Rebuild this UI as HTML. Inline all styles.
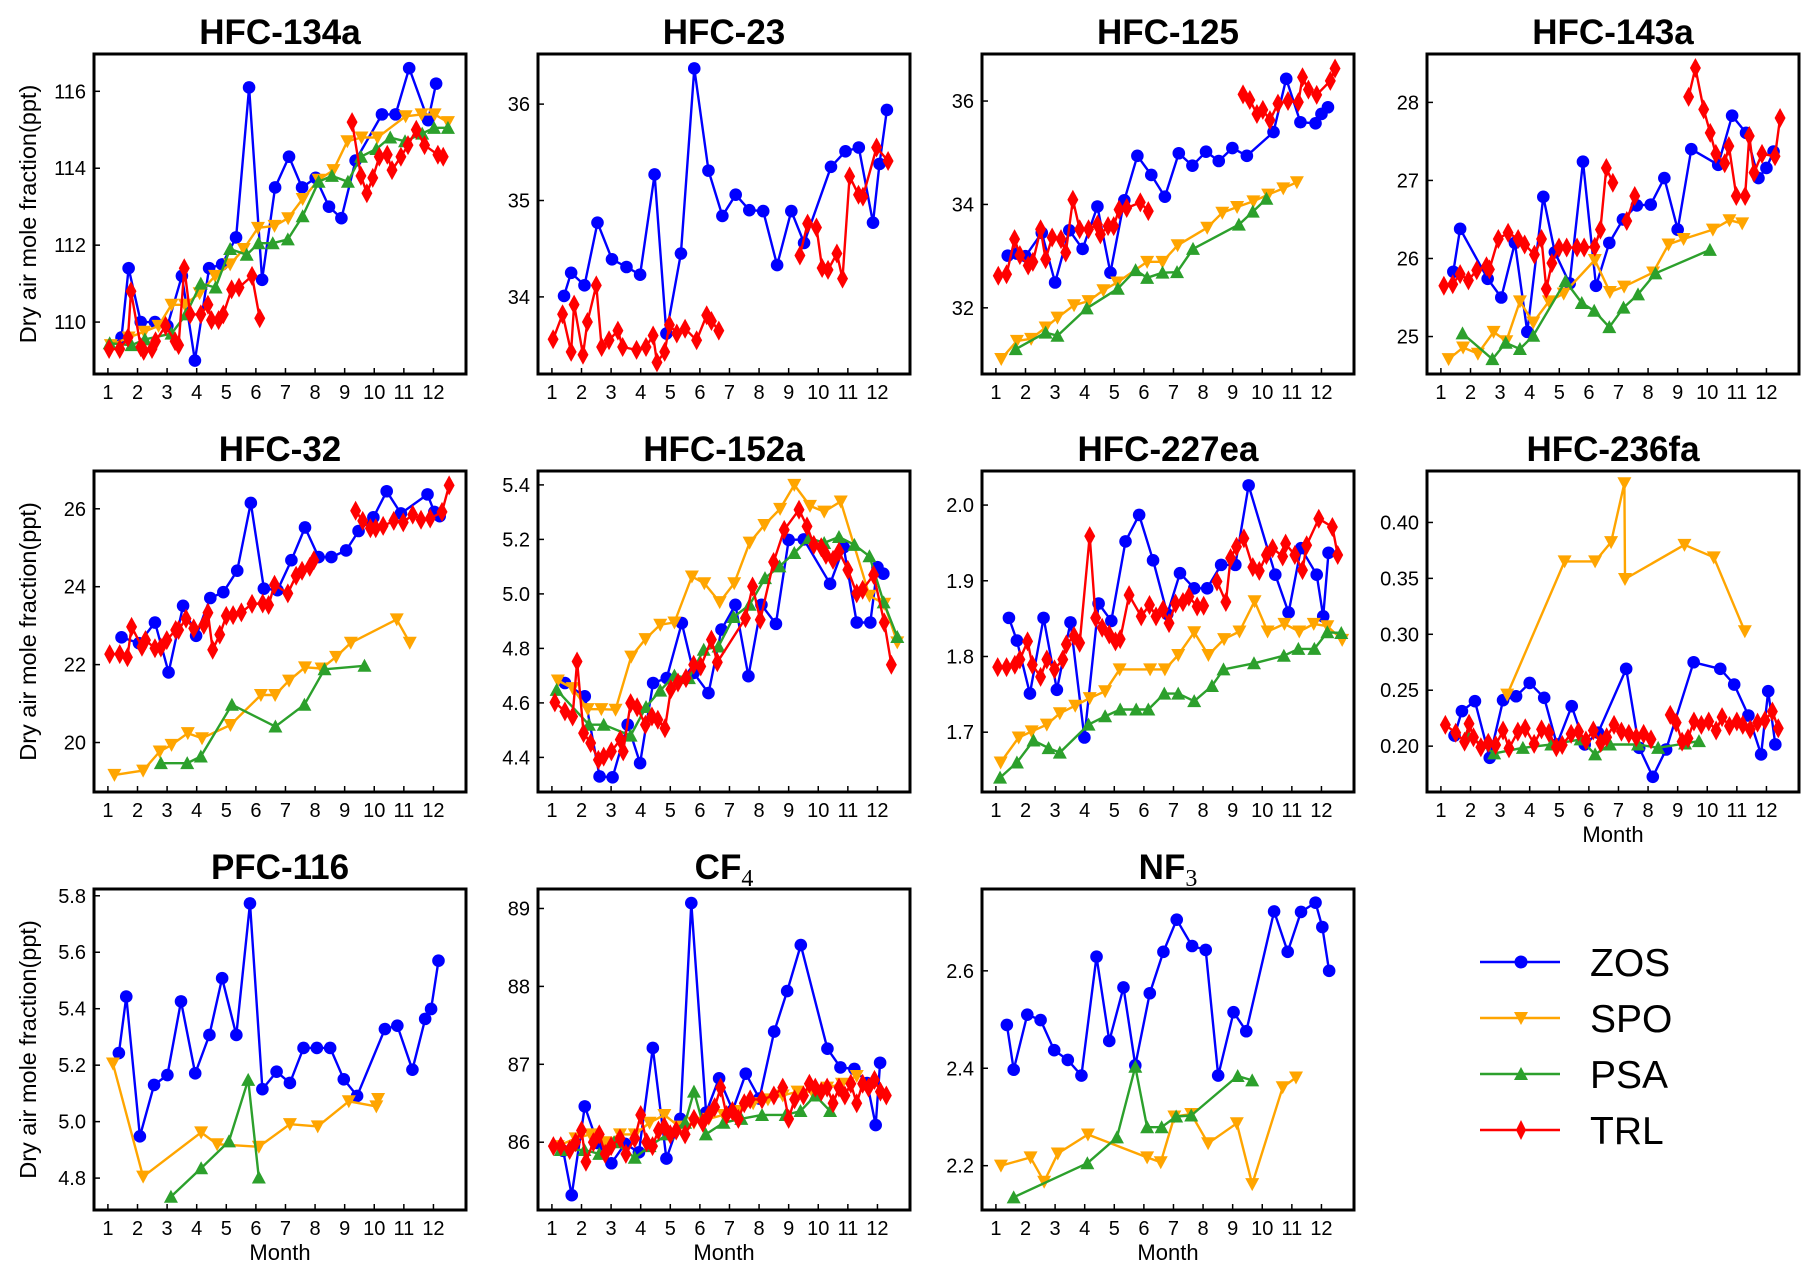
<!DOCTYPE html>
<html><head><meta charset="utf-8">
<style>
html,body{margin:0;padding:0;background:#fff;}
svg{display:block;font-family:"Liberation Sans",Arial,sans-serif;}
</style></head>
<body>
<svg id="fig" width="1818" height="1279" viewBox="0 0 1818 1279" xmlns="http://www.w3.org/2000/svg">
<rect width="1818" height="1279" fill="#fff"/>
<g id="legend">
  <g>
    <line x1="1480" y1="962" x2="1560" y2="962" stroke="#0000ff" stroke-width="2.6"/>
    <circle cx="1521" cy="962" r="6.5" fill="#0000ff"/>
    <text x="1590" y="976" font-size="39">ZOS</text>
  </g>
  <g>
    <line x1="1480" y1="1018" x2="1560" y2="1018" stroke="#ffa500" stroke-width="2.6"/>
    <polygon points="1514,1012 1528,1012 1521,1025" fill="#ffa500"/>
    <text x="1590" y="1032" font-size="39">SPO</text>
  </g>
  <g>
    <line x1="1480" y1="1074" x2="1560" y2="1074" stroke="#2ca02c" stroke-width="2.6"/>
    <polygon points="1514,1080 1528,1080 1521,1067" fill="#2ca02c"/>
    <text x="1590" y="1088" font-size="39">PSA</text>
  </g>
  <g>
    <line x1="1480" y1="1130" x2="1560" y2="1130" stroke="#ff0000" stroke-width="2.6"/>
    <polygon points="1521,1120 1526,1130 1521,1140 1516,1130" fill="#ff0000"/>
    <text x="1590" y="1144" font-size="39">TRL</text>
  </g>
</g>
</svg>
<script>
// ---------- data (month, ppt) ----------
const HFC134a_ZOS=[[1.46,109.6],[1.70,111.4],[2.11,110.0],[2.59,110.0],[3.01,109.9],[3.50,111.2],[3.94,109.0],[4.42,111.4],[4.86,111.5],[5.33,112.2],[5.77,116.1],[6.21,111.1],[6.65,113.5],[7.12,114.3],[7.56,113.5],[8.02,113.75],[8.47,113.0],[8.89,112.7],[9.37,114.2],[10.26,115.4],[10.72,115.4],[11.18,116.6],[11.82,115.25],[12.09,116.2]];
const HFC134a_SPO=[[1.1,109.4],[1.7,109.6],[2.23,109.75],[2.71,109.9],[3.15,110.45],[3.6,110.45],[4.1,110.75],[4.62,111.2],[5.13,111.5],[5.59,111.9],[6.07,112.45],[6.63,112.5],[7.09,112.7],[7.58,113.2],[8.12,113.7],[8.62,113.95],[9.09,114.7],[9.57,114.8],[10.11,114.8],[11.06,115.35],[11.6,115.4],[12.04,115.4],[12.49,115.2]];
const HFC134a_PSA=[[1.06,109.45],[1.8,109.4],[2.25,109.55],[3.15,109.7],[3.64,110.2],[4.14,111.0],[4.64,110.9],[5.13,111.9],[5.69,111.75],[6.09,112.05],[6.57,112.05],[7.08,112.15],[7.58,112.75],[8.12,113.65],[8.57,113.8],[9.11,113.65],[9.55,114.3],[10.07,114.5],[10.54,114.8],[11.04,114.7],[11.62,114.9],[12.02,115.05],[12.49,115.05]];
const HFC134a_TRL=[[1.04,109.3],[1.4,109.3],[1.68,109.6],[1.78,110.8],[2.11,109.35],[2.21,109.25],[2.49,109.3],[2.61,109.5],[2.95,109.9],[3.27,109.5],[3.39,109.4],[3.58,111.4],[3.78,110.2],[4.14,110.2],[4.38,110.45],[4.5,110.05],[4.74,110.05],[4.9,110.2],[5.18,110.85],[5.43,110.9],[5.87,111.2],[6.13,110.1],[null,null],[9.25,115.2],[9.55,113.8],[9.75,113.35],[9.95,113.75],[10.17,114.3],[10.44,114.35],[10.6,113.95],[10.9,114.3],[11.14,114.6],[11.42,115.0],[11.7,114.6],[12.15,114.35],[12.33,114.3]];

const HFC23_ZOS=[[1.41,34.01],[1.65,34.25],[2.1,34.12],[2.54,34.77],[3.03,34.39],[3.52,34.31],[3.98,34.23],[4.47,35.27],[4.87,33.62],[5.36,34.45],[5.81,36.37],[6.29,35.31],[6.76,34.84],[7.21,35.06],[7.67,34.9],[8.14,34.89],[8.61,34.33],[9.09,34.89],[9.52,34.56],[10.43,35.35],[10.92,35.51],[11.37,35.55],[11.85,34.77],[12.07,35.38],[12.32,35.94]];
const HFC23_TRL=[[1.04,33.56],[1.36,33.82],[1.65,33.43],[1.75,33.92],[2.05,33.4],[2.2,33.74],[2.5,34.12],[2.68,33.48],[2.93,33.55],[3.23,33.65],[3.39,33.48],[3.86,33.45],[4.18,33.48],[4.42,33.6],[4.55,33.32],[4.81,33.43],[4.97,33.71],[5.22,33.62],[5.5,33.67],[5.89,33.55],[6.23,33.81],[6.39,33.75],[6.64,33.65],[null,null],[9.38,34.43],[9.64,34.76],[9.94,34.72],[10.13,34.3],[10.33,34.28],[10.63,34.45],[10.82,34.19],[11.06,35.25],[11.36,35.06],[11.51,35.04],[11.97,35.55],[12.36,35.41]];

const HFC125_ZOS=[[1.4,33.01],[1.7,33.05],[2.0,33.0],[2.55,33.45],[3.0,32.49],[3.48,33.5],[3.93,33.14],[4.43,33.96],[4.87,32.68],[5.34,34.08],[5.78,34.94],[6.25,34.57],[6.71,34.15],[7.18,34.99],[7.64,34.75],[8.1,35.02],[8.53,34.84],[8.99,35.09],[9.48,34.94],[10.38,35.4],[10.81,36.43],[11.29,35.59],[11.8,35.57],[12.0,35.75],[12.22,35.88]];
const HFC125_SPO=[[1.18,31.01],[1.71,31.36],[2.19,31.4],[2.68,31.62],[3.08,31.81],[3.64,32.05],[4.13,32.13],[4.63,32.34],[5.1,32.49],[6.11,32.89],[6.63,32.89],[7.14,33.21],[8.14,33.55],[8.65,33.84],[9.15,33.95],[9.7,34.06],[10.2,34.19],[10.71,34.31],[11.17,34.43]];
const HFC125_PSA=[[1.67,31.2],[2.68,31.52],[3.08,31.46],[4.07,31.99],[5.12,32.37],[5.72,32.73],[6.11,32.58],[6.63,32.68],[7.12,32.69],[7.66,33.14],[9.21,33.61],[9.68,33.86],[10.14,34.11]];
const HFC125_TRL=[[1.08,32.62],[1.36,32.65],[1.63,33.33],[1.81,33.02],[2.09,32.82],[2.25,32.89],[2.51,33.52],[2.68,32.94],[2.9,33.36],[3.2,33.33],[3.36,33.07],[3.6,34.09],[3.83,33.52],[4.13,33.52],[4.43,33.61],[4.53,33.42],[4.79,33.58],[4.98,33.58],[5.16,33.9],[5.42,33.93],[5.88,34.04],[6.15,33.87],[null,null],[9.35,36.13],[9.58,36.02],[9.82,35.75],[10.02,35.83],[10.26,35.63],[10.53,35.95],[10.87,36.0],[11.22,35.98],[11.36,36.46],[11.56,36.22],[11.84,36.12],[12.3,36.39],[12.46,36.63]];

const HFC143a_ZOS=[[1.42,25.83],[1.65,26.38],[2.58,25.74],[3.04,25.5],[3.5,26.2],[3.92,25.06],[4.46,26.79],[4.85,26.08],[5.35,25.68],[5.8,27.24],[6.24,25.65],[6.69,26.2],[7.15,26.5],[7.62,26.68],[8.09,26.69],[8.55,27.03],[9.0,26.37],[9.46,27.4],[10.37,27.2],[10.84,27.83],[11.31,27.61],[11.73,27.03],[12.0,27.16],[12.24,27.37]];
const HFC143a_SPO=[[1.26,24.71],[1.75,24.86],[2.25,24.78],[2.78,25.06],[3.21,24.94],[3.67,25.45],[4.12,25.18],[4.65,25.45],[5.15,25.55],[6.2,25.98],[6.71,25.57],[7.19,25.64],[8.17,25.82],[8.69,26.18],[9.2,26.25],[10.19,26.37],[10.75,26.49],[11.18,26.45]];
const HFC143a_PSA=[[1.73,25.04],[2.74,24.71],[3.19,24.92],[3.67,24.84],[4.12,25.01],[5.21,25.71],[5.76,25.43],[6.18,25.33],[6.69,25.12],[7.17,25.37],[7.66,25.54],[8.25,25.81],[10.09,26.11]];
const HFC143a_TRL=[[1.1,25.65],[1.4,25.67],[1.65,25.8],[1.93,25.72],[2.21,25.85],[2.54,25.9],[2.64,25.86],[2.94,26.25],[3.27,26.33],[3.61,26.25],[3.83,26.18],[4.16,26.05],[4.4,26.25],[4.56,25.61],[4.75,25.94],[4.99,26.14],[5.25,26.14],[5.6,26.14],[5.84,26.14],[6.2,26.15],[6.39,26.37],[6.59,27.16],[6.81,26.97],[null,null],[7.28,26.48],[7.55,26.8],[null,null],[9.37,28.07],[9.6,28.44],[9.88,27.91],[10.1,27.61],[10.29,27.34],[10.59,27.22],[10.73,27.44],[10.98,26.8],[11.28,26.8],[11.42,27.57],[11.58,27.1],[11.85,27.34],[12.29,27.31],[12.46,27.8]];

const HFC32_ZOS=[[1.46,22.7],[2.05,22.55],[2.59,23.08],[3.05,21.8],[3.54,23.51],[3.98,22.74],[4.46,23.71],[4.9,23.86],[5.37,24.41],[5.83,26.15],[6.27,23.95],[6.73,23.91],[7.2,24.68],[7.66,25.52],[8.12,24.76],[8.55,24.76],[9.05,24.93],[9.47,25.43],[9.97,25.78],[10.42,26.45],[10.9,25.88],[11.8,26.37],[12.03,25.92],[12.21,25.81]];
const HFC32_SPO=[[1.22,19.17],[2.19,19.28],[2.75,19.77],[3.15,19.94],[3.7,20.24],[4.18,20.11],[5.14,20.45],[6.17,21.22],[6.65,21.22],[7.12,21.59],[7.66,21.93],[8.22,21.9],[8.71,22.2],[9.21,22.56],[10.76,23.16],[11.2,22.56]];
const HFC32_PSA=[[2.79,19.47],[3.68,19.47],[4.14,19.64],[5.19,20.97],[6.66,20.41],[7.64,20.97],[8.32,21.88],[9.67,21.97]];
const HFC32_TRL=[[1.06,22.27],[1.4,22.27],[1.66,22.19],[1.8,22.97],[2.15,22.46],[2.27,22.63],[2.59,22.42],[2.79,22.44],[2.99,22.63],[3.29,22.89],[3.39,22.89],[3.64,23.18],[3.9,22.93],[4.24,23.02],[4.38,23.33],[4.54,22.38],[4.78,22.77],[5.0,23.25],[5.23,23.27],[5.51,23.34],[5.87,23.56],[6.23,23.57],[6.43,23.53],[6.63,24.05],[7.08,23.83],[7.36,24.28],[7.56,24.41],[7.82,24.51],[7.96,24.68],[null,null],[9.37,25.95],[9.61,25.69],[9.87,25.5],[10.05,25.5],[10.3,25.56],[10.66,25.69],[10.98,25.65],[11.3,25.85],[11.58,25.72],[11.89,25.75],[12.29,25.92],[12.53,26.6]];

const HFC152a_ZOS=[[1.44,4.673],[2.11,4.624],[2.61,4.33],[3.05,4.327],[3.56,4.52],[3.98,4.379],[4.42,4.673],[4.88,4.691],[5.39,4.893],[5.79,4.71],[6.29,4.636],[6.73,4.869],[7.2,4.96],[7.64,4.698],[8.08,4.96],[8.57,4.89],[9.0,5.198],[9.51,5.2],[10.4,5.037],[10.86,5.171],[11.3,4.895],[11.76,4.895],[12.0,5.098],[12.2,5.074]];
const HFC152a_SPO=[[1.2,4.682],[1.7,4.654],[2.21,4.577],[2.67,4.577],[3.15,4.575],[3.68,4.77],[4.16,4.834],[4.66,4.887],[5.14,4.895],[5.73,5.064],[6.15,5.039],[6.67,4.97],[7.16,5.039],[7.68,5.188],[8.18,5.253],[8.71,5.312],[9.19,5.4],[9.72,5.323],[10.2,5.302],[10.76,5.339],[11.73,4.993],[12.23,4.964],[12.67,4.822]];
const HFC152a_PSA=[[1.16,4.648],[2.25,4.52],[2.75,4.52],[3.66,4.48],[4.18,4.585],[4.66,4.645],[5.14,4.7],[5.63,4.691],[6.13,4.795],[6.63,4.807],[7.14,4.915],[7.68,4.96],[8.2,5.058],[8.69,5.101],[9.19,5.15],[9.69,5.205],[10.2,5.187],[10.7,5.209],[11.22,5.18],[11.73,5.138],[12.21,4.969],[12.67,4.842]];
const HFC152a_TRL=[[1.1,4.602],[1.44,4.569],[1.7,4.55],[1.85,4.752],[2.07,4.489],[2.31,4.453],[2.57,4.391],[2.75,4.403],[3.01,4.422],[3.31,4.465],[3.41,4.422],[3.66,4.599],[3.88,4.584],[4.16,4.52],[4.38,4.55],[4.58,4.538],[4.82,4.507],[5.02,4.65],[5.26,4.675],[5.53,4.691],[5.79,4.74],[6.03,4.734],[6.39,4.832],[6.59,4.749],[7.54,4.911],[7.78,5.027],[8.04,4.905],[8.49,5.117],[8.85,5.235],[9.35,5.309],[9.62,5.248],[9.85,5.18],[10.1,5.171],[10.26,5.143],[10.5,5.125],[10.7,5.155],[11.0,5.088],[11.3,5.002],[11.5,5.015],[11.87,5.07],[12.23,4.895],[12.47,4.74]];

const HFC227ea_ZOS=[[1.44,1.851],[1.71,1.821],[2.15,1.751],[2.61,1.851],[3.06,1.756],[3.52,1.845],[3.99,1.693],[4.47,1.87],[4.9,1.847],[5.38,1.952],[5.84,1.987],[6.31,1.927],[6.79,1.856],[7.22,1.91],[7.7,1.89],[8.14,1.89],[8.61,1.921],[9.09,1.921],[9.54,2.026],[10.44,1.908],[10.89,1.858],[11.31,1.943],[11.84,1.908],[12.06,1.853],[12.24,1.937]];
const HFC227ea_SPO=[[1.16,1.66],[1.77,1.693],[2.21,1.701],[2.72,1.71],[3.16,1.725],[3.68,1.735],[4.17,1.745],[4.69,1.754],[5.18,1.783],[6.21,1.783],[6.71,1.783],[7.16,1.802],[7.7,1.832],[8.18,1.802],[8.71,1.823],[9.23,1.833],[9.74,1.873],[10.18,1.833],[10.75,1.843],[11.25,1.833],[11.74,1.843],[12.2,1.84],[12.7,1.822]];
const HFC227ea_PSA=[[1.14,1.64],[1.71,1.66],[2.27,1.689],[2.78,1.679],[3.16,1.673],[4.13,1.71],[4.69,1.721],[5.2,1.73],[5.74,1.73],[6.15,1.73],[6.69,1.751],[7.16,1.751],[7.7,1.741],[8.3,1.761],[8.69,1.783],[9.72,1.791],[10.73,1.801],[11.22,1.81],[11.76,1.81],[12.2,1.832],[12.67,1.831]];
const HFC227ea_TRL=[[1.06,1.786],[1.36,1.786],[1.64,1.789],[1.81,1.796],[2.07,1.82],[2.23,1.789],[2.51,1.773],[2.72,1.796],[2.98,1.783],[3.26,1.796],[3.38,1.816],[3.64,1.827],[3.83,1.818],[4.17,1.959],[4.37,1.851],[4.59,1.838],[4.83,1.829],[5.04,1.82],[5.2,1.823],[5.5,1.881],[5.91,1.853],[6.19,1.868],[6.41,1.853],[6.65,1.862],[6.85,1.844],[7.07,1.87],[7.32,1.872],[7.52,1.879],[7.8,1.866],[8.02,1.867],[null,null],[8.47,1.899],[8.77,1.872],[8.93,1.93],[9.13,1.945],[9.38,1.956],[9.68,1.918],[9.9,1.913],[10.14,1.934],[10.35,1.943],[10.69,1.932],[10.79,1.949],[11.1,1.934],[11.36,1.914],[11.5,1.947],[11.91,1.982],[12.37,1.971],[12.55,1.934]];

const HFC236fa_ZOS=[[1.46,0.2095],[1.71,0.2313],[2.15,0.2402],[2.65,0.1896],[3.1,0.2411],[3.54,0.2446],[4.0,0.2565],[4.49,0.2432],[4.92,0.2015],[5.42,0.2357],[5.86,0.2015],[6.31,0.212],[7.26,0.2691],[7.7,0.1985],[8.16,0.1726],[8.61,0.197],[9.54,0.275],[10.44,0.2691],[10.91,0.2551],[11.39,0.2274],[11.82,0.1926],[12.06,0.2491],[12.3,0.2015]];
const HFC236fa_SPO=[[3.24,0.2461],[5.18,0.3652],[6.21,0.3652],[6.75,0.3824],[7.2,0.4351],[7.22,0.3494],[9.23,0.38],[10.22,0.3688],[11.27,0.3027]];
const HFC236fa_PSA=[[1.9,0.21],[2.8,0.1935],[3.77,0.1985],[4.73,0.2015],[5.72,0.206],[6.21,0.1926],[6.71,0.2015],[7.66,0.2015],[8.34,0.1985],[9.25,0.2024],[9.72,0.2045]];
const HFC236fa_TRL=[[1.15,0.219],[1.5,0.212],[1.8,0.204],[1.95,0.220],[2.1,0.208],[2.35,0.199],[2.6,0.203],[2.85,0.201],[3.1,0.214],[3.3,0.198],[3.6,0.213],[3.85,0.216],[4.15,0.202],[4.4,0.215],[4.65,0.212],[4.9,0.199],[5.1,0.201],[5.4,0.211],[5.65,0.213],[5.9,0.205],[6.15,0.214],[6.4,0.203],[6.6,0.208],[6.85,0.219],[7.1,0.213],[7.35,0.211],[7.6,0.208],[7.85,0.211],[8.1,0.206],[null,null],[8.75,0.228],[8.95,0.221],[9.15,0.204],[9.35,0.207],[9.55,0.222],[9.8,0.219],[10.05,0.222],[10.3,0.214],[10.5,0.226],[10.75,0.218],[11.0,0.222],[11.2,0.219],[11.45,0.215],[11.7,0.221],[11.95,0.223],[12.2,0.231],[12.4,0.216]];

const PFC116_ZOS=[[1.37,5.243],[1.62,5.443],[2.08,4.948],[2.56,5.13],[3.01,5.165],[3.47,5.426],[3.95,5.171],[4.43,5.307],[4.86,5.508],[5.34,5.307],[5.8,5.773],[6.22,5.115],[6.7,5.177],[7.15,5.137],[7.61,5.261],[8.06,5.261],[8.51,5.261],[8.97,5.15],[9.42,5.091],[10.36,5.328],[10.78,5.34],[11.29,5.184],[11.72,5.364],[11.92,5.399],[12.17,5.57]];
const PFC116_SPO=[[1.17,5.206],[2.19,4.805],[4.15,4.962],[4.69,4.92],[6.1,4.911],[7.15,4.991],[8.09,4.983],[9.14,5.072],[10.07,5.054],[10.13,5.08]];
const PFC116_PSA=[[3.13,4.734],[4.15,4.835],[5.09,4.93],[5.74,5.148],[6.1,4.802]];

const CF4_ZOS=[[1.38,85.89],[1.67,85.32],[2.11,86.46],[2.54,85.99],[3.01,85.73],[3.47,85.98],[3.94,85.87],[4.41,87.21],[4.87,85.79],[5.34,86.3],[5.71,89.07],[6.21,86.38],[6.65,86.82],[7.11,86.41],[7.55,86.88],[8.01,86.56],[8.51,87.42],[8.95,87.94],[9.41,88.53],[10.31,87.2],[10.75,86.96],[11.22,86.94],[11.65,86.76],[11.94,86.22],[12.09,87.02]];
const CF4_SPO=[[1.2,85.95],[1.8,86.05],[2.3,86.1],[2.8,86.0],[3.3,86.1],[3.8,86.1],[4.3,86.25],[4.8,86.35],[5.3,86.2],[5.8,86.25],[6.3,86.3],[6.8,86.35],[7.3,86.4],[7.8,86.5],[8.3,86.55],[8.8,86.6],[9.3,86.65],[9.8,86.65],[10.3,86.7],[10.8,86.75],[11.3,86.85]];
const CF4_PSA=[[1.3,85.9],[2.1,85.9],[2.6,85.85],[3.1,86.0],[3.8,85.8],[4.3,85.95],[4.9,86.1],[5.5,86.25],[5.8,86.65],[6.2,86.1],[6.8,86.25],[7.4,86.3],[8.1,86.35],[8.9,86.35],[9.4,86.4],[9.9,86.6],[10.4,86.4]];
const CF4_TRL=[[1.05,85.95],[1.3,85.95],[1.6,85.9],[1.8,86.0],[2.0,86.15],[2.15,85.75],[2.4,86.0],[2.6,86.1],[2.8,85.85],[3.0,85.95],[3.3,86.05],[3.5,85.85],[3.8,86.05],[4.0,86.35],[4.2,86.0],[4.4,85.95],[4.6,86.15],[4.8,86.2],[5.0,86.1],[5.2,86.15],[5.5,86.1],[5.8,86.3],[6.1,86.25],[6.3,86.35],[6.5,86.45],[6.7,86.7],[6.9,86.35],[7.1,86.4],[7.3,86.3],[7.5,86.5],[7.7,86.55],[8.1,86.55],[8.5,86.6],[8.8,86.7],[9.0,86.3],[9.2,86.55],[9.5,86.6],[9.7,86.75],[9.9,86.7],[10.1,86.65],[10.3,86.7],[10.5,86.5],[10.7,86.7],[10.9,86.6],[11.1,86.75],[11.3,86.5],[11.5,86.75],[11.7,86.7],[11.9,86.8],[12.1,86.65],[12.3,86.6]];

const NF3_ZOS=[[1.37,2.489],[1.6,2.397],[2.06,2.51],[2.51,2.499],[2.97,2.437],[3.43,2.417],[3.89,2.385],[4.4,2.629],[4.83,2.456],[5.31,2.566],[5.71,2.406],[6.2,2.554],[6.66,2.639],[7.11,2.705],[7.63,2.651],[8.09,2.643],[8.51,2.385],[9.03,2.515],[9.46,2.476],[10.4,2.722],[10.86,2.639],[11.31,2.721],[11.8,2.74],[12.03,2.69],[12.26,2.6]];
const NF3_SPO=[[1.17,2.2],[2.17,2.217],[2.63,2.167],[3.09,2.225],[4.11,2.264],[6.11,2.217],[6.57,2.207],[7.03,2.301],[7.6,2.306],[8.17,2.246],[9.14,2.287],[9.66,2.162],[10.69,2.361],[11.14,2.381]];
const NF3_PSA=[[1.6,2.135],[4.09,2.205],[5.09,2.258],[5.71,2.403],[6.11,2.279],[6.6,2.279],[7.09,2.301],[7.6,2.303],[9.17,2.384],[9.66,2.375]];

const monthTicks=[1,2,3,4,5,6,7,8,9,10,11,12];
const ticks134a=["110","112","114","116"];
const ticks23=["34","35","36"];
const ticks125=["32","34","36"];
const ticks143a=["25","26","27","28"];
const ticks32=["20","22","24","26"];
const ticks152a=["4.4","4.6","4.8","5.0","5.2","5.4"];
const ticks227ea=["1.7","1.8","1.9","2.0"];
const ticks236fa=["0.20","0.25","0.30","0.35","0.40"];
const ticks116=["4.8","5.0","5.2","5.4","5.6","5.8"];
const ticksCF4=["86","87","88","89"];
const ticksNF3=["2.2","2.4","2.6"];

// ---------- layout ----------
const NS="http://www.w3.org/2000/svg";
const svg=document.getElementById('fig');
const COLS=[94,538,982,1427], W=372;
const ROWS=[[54,374],[471,792],[889,1210]];
const XMIN=0.53, XMAX=13.1;
const COLORS={ZOS:"#0000ff",SPO:"#ffa500",PSA:"#2ca02c",TRL:"#ff0000"};

function mk(tag,attrs,parent){const e=document.createElementNS(NS,tag);for(const k in attrs)e.setAttribute(k,attrs[k]);(parent||svg).appendChild(e);return e;}

const panels=[
 {id:"hfc-134a",title:"HFC-134a",c:0,r:0,y:[108.65,116.97],t:ticks134a,s:{ZOS:HFC134a_ZOS,SPO:HFC134a_SPO,PSA:HFC134a_PSA,TRL:HFC134a_TRL},yl:1},
 {id:"hfc-23",title:"HFC-23",c:1,r:0,y:[33.2,36.52],t:ticks23,s:{ZOS:HFC23_ZOS,TRL:HFC23_TRL}},
 {id:"hfc-125",title:"HFC-125",c:2,r:0,y:[30.72,36.91],t:ticks125,s:{ZOS:HFC125_ZOS,SPO:HFC125_SPO,PSA:HFC125_PSA,TRL:HFC125_TRL}},
 {id:"hfc-143a",title:"HFC-143a",c:3,r:0,y:[24.52,28.62],t:ticks143a,s:{ZOS:HFC143a_ZOS,SPO:HFC143a_SPO,PSA:HFC143a_PSA,TRL:HFC143a_TRL}},
 {id:"hfc-32",title:"HFC-32",c:0,r:1,y:[18.73,26.97],t:ticks32,s:{ZOS:HFC32_ZOS,SPO:HFC32_SPO,PSA:HFC32_PSA,TRL:HFC32_TRL},yl:1},
 {id:"hfc-152a",title:"HFC-152a",c:1,r:1,y:[4.273,5.451],t:ticks152a,s:{ZOS:HFC152a_ZOS,SPO:HFC152a_SPO,PSA:HFC152a_PSA,TRL:HFC152a_TRL}},
 {id:"hfc-227ea",title:"HFC-227ea",c:2,r:1,y:[1.621,2.045],t:ticks227ea,s:{ZOS:HFC227ea_ZOS,SPO:HFC227ea_SPO,PSA:HFC227ea_PSA,TRL:HFC227ea_TRL}},
 {id:"hfc-236fa",title:"HFC-236fa",c:3,r:1,y:[0.159,0.446],t:ticks236fa,s:{ZOS:HFC236fa_ZOS,SPO:HFC236fa_SPO,PSA:HFC236fa_PSA,TRL:HFC236fa_TRL},xl:1},
 {id:"pfc-116",title:"PFC-116",c:0,r:2,y:[4.687,5.824],t:ticks116,s:{ZOS:PFC116_ZOS,SPO:PFC116_SPO,PSA:PFC116_PSA},yl:1,xl:1},
 {id:"cf4",title:"CF",sub:"4",c:1,r:2,y:[85.13,89.25],t:ticksCF4,s:{ZOS:CF4_ZOS,SPO:CF4_SPO,PSA:CF4_PSA,TRL:CF4_TRL},xl:1},
 {id:"nf3",title:"NF",sub:"3",c:2,r:2,y:[2.109,2.768],t:ticksNF3,s:{ZOS:NF3_ZOS,SPO:NF3_SPO,PSA:NF3_PSA},xl:1}
];

function marker(g,name,x,y,col){
  let e;
  if(name==="ZOS") e=mk('circle',{cx:x,cy:y,r:6.3,fill:col},g);
  else if(name==="SPO") e=mk('polygon',{points:`${x-7},${y-6} ${x+7},${y-6} ${x},${y+7}`,fill:col},g);
  else if(name==="PSA") e=mk('polygon',{points:`${x-7},${y+6} ${x+7},${y+6} ${x},${y-7}`,fill:col},g);
  else e=mk('polygon',{points:`${x},${y-10} ${x+5.5},${y} ${x},${y+10} ${x-5.5},${y}`,fill:col},g);
  return e;
}

panels.forEach(p=>{
  const L=COLS[p.c], R=L+W, T=ROWS[p.r][0], B=ROWS[p.r][1];
  const xs=m=>L+(m-XMIN)/(XMAX-XMIN)*W;
  const ys=v=>B-(v-p.y[0])/(p.y[1]-p.y[0])*(B-T);
  const g=mk('g',{});
  
  
  const tt=mk('text',{x:(L+R)/2,y:T-10,'text-anchor':'middle','font-size':35,'font-weight':'bold'},g);
  
  
  tt.textContent=p.title;
  if(p.sub){const ts=mk('tspan',{'font-size':24,'font-weight':'normal','font-family':'"Liberation Serif",serif',dy:7},tt);ts.textContent=p.sub;}
  const cp=mk('clipPath',{id:'clip-'+p.id},g);
  mk('rect',{x:L,y:T,width:W,height:B-T},cp);
  const sg=mk('g',{'clip-path':'url(#clip-'+p.id+')'},g);
  ["ZOS","SPO","PSA","TRL"].forEach(name=>{
    const data=p.s[name]; if(!data) return;
    const col=COLORS[name];
    const grp=mk('g',{},sg);
    
    
    let d="",pen=false;
    data.forEach(pt=>{
      if(pt[0]===null){pen=false;return;}
      d+=(pen?"L":"M")+xs(pt[0]).toFixed(1)+","+ys(pt[1]).toFixed(1);pen=true;
    });
    mk('path',{d:d,fill:'none',stroke:col,'stroke-width':2.4,'stroke-linejoin':'round'},grp);
    data.forEach(pt=>{
      if(pt[0]===null) return;
      const mkEl=marker(grp,name,xs(pt[0]),ys(pt[1]),col);
      
      
    });
  });
  const fr=mk('rect',{x:L,y:T,width:W,height:B-T,fill:'none',stroke:'#000','stroke-width':3},g);
  
  
  const xg=mk('g',{},g);
  
  
  monthTicks.forEach(m=>{
    const x=xs(m);
    mk('line',{x1:x,y1:B,x2:x,y2:B-6,stroke:'#000','stroke-width':1.5},xg);
    const t=mk('text',{x:x,y:B+25,'text-anchor':'middle','font-size':20},xg);
    t.textContent=String(m);
  });
  const yg=mk('g',{},g);
  
  
  p.t.forEach(lab=>{
    const y=ys(parseFloat(lab));
    mk('line',{x1:L,y1:y,x2:L+6,y2:y,stroke:'#000','stroke-width':1.5},yg);
    const t=mk('text',{x:L-8,y:y+7,'text-anchor':'end','font-size':20},yg);
    t.textContent=lab;
  });
  if(p.yl){
    const cy=(T+B)/2;
    const t=mk('text',{x:36,y:cy,'text-anchor':'middle','font-size':23.5,transform:`rotate(-90 36 ${cy})`},g);
    
    
    t.textContent="Dry air mole fraction(ppt)";
  }
  if(p.xl){
    const t=mk('text',{x:(L+R)/2,y:B+50,'text-anchor':'middle','font-size':22},g);
    
    
    t.textContent="Month";
  }
});
</script>
</body></html>
